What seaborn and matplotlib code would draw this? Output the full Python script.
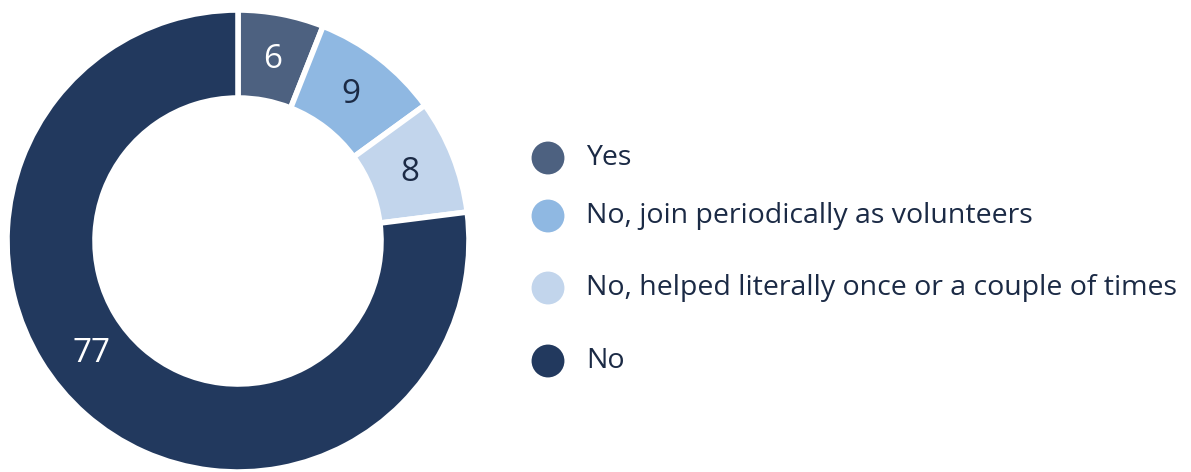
import matplotlib
matplotlib.use("Agg")
import matplotlib.pyplot as plt
import seaborn as sns
import numpy as np

categories = ["Yes", "No, join periodically as volunteers",
              "No, helped literally once or a couple of times", "No"]
values = [6, 9, 8, 77]
colors = ["#4d6180", "#8fb8e2", "#c2d5ec", "#22395e"]
label_colors = ["white", "#1b2a45", "#1b2a45", "white"]

sns.set_theme(style="white")
plt.rcParams["font.family"] = ["Open Sans", "DejaVu Sans"]

W, H = 1191, 472
fig = plt.figure(figsize=(W / 100, H / 100), dpi=100)

# donut axes: centre (238, 241) px, outer radius 231 px
cx, cy, r = 238, 241, 231
inner = 143 / 231
ax = fig.add_axes([(cx - r) / W, (H - cy - r) / H, 2 * r / W, 2 * r / H])
ax.pie(values, colors=colors, startangle=90, counterclock=False, radius=1.0,
       wedgeprops=dict(width=1 - inner, edgecolor="white", linewidth=4))
ax.set_xlim(-1, 1)
ax.set_ylim(-1, 1)
ax.set_aspect("equal")
ax.axis("off")

# value labels in the ring; the large slice label sits lower-left
total = sum(values)
rmid = 0.80
start = 0.0
for i, (v, c) in enumerate(zip(values, label_colors)):
    ang = (start + v / total / 2) * 360
    if i == len(values) - 1:
        ang = 232.5
    theta = np.deg2rad(90 - ang)
    ax.text(rmid * np.cos(theta), rmid * np.sin(theta), str(v), color=c,
            ha="center", va="center", fontsize=24)
    start += v / total

# legend
lax = fig.add_axes([0, 0, 1, 1])
lax.set_xlim(0, W)
lax.set_ylim(H, 0)
lax.axis("off")
leg_y = [158, 216, 288, 361]
lax.scatter([548] * 4, leg_y, s=560, c=colors, linewidths=0)
for y, t in zip(leg_y, categories):
    lax.text(586, y, t, ha="left", va="center", fontsize=20.5, color="#1b2a45")

fig.savefig("out.png", dpi=100)
